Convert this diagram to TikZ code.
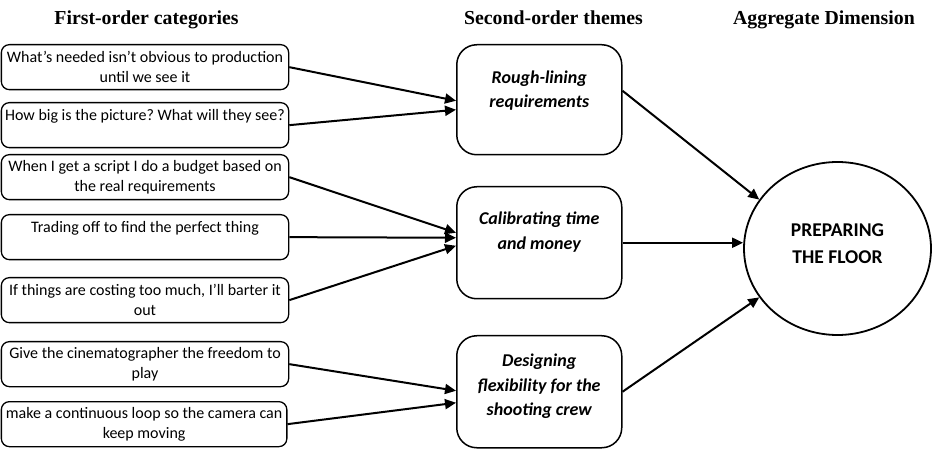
\documentclass[tikz,border=0pt]{standalone}
\usepackage{fontspec}
\setmainfont{Liberation Serif}
\newfontfamily\boxfont{Carlito}
\frenchspacing
\usetikzlibrary{arrows.meta,shapes.geometric}
\begin{document}
\begin{tikzpicture}[x=1pt,y=-1pt,
  heading/.style={font=\fontsize{19.8}{22}\selectfont\bfseries, anchor=base},
  quote/.style={draw, line width=1.3pt, rounded corners=8pt, minimum width=287.3pt,
    minimum height=45pt, inner sep=0pt, text width=287pt, align=flush center,
    font=\boxfont\fontsize{16}{20}\selectfont, anchor=north west},
  theme/.style={draw, line width=1.5pt, rounded corners=20pt, minimum width=165pt,
    inner sep=0pt, anchor=north west},
  themetext/.style={font=\boxfont\bfseries\itshape\fontsize{18}{24.5}\selectfont, align=center},
  dim/.style={draw, ellipse, line width=1.8pt, minimum width=187pt, minimum height=173pt,
    inner sep=0pt},
  dimtext/.style={font=\boxfont\bfseries\fontsize{19.5}{27}\selectfont, align=center},
  link/.style={line width=2pt, -{Triangle[length=11pt,width=10pt]}}
]
\useasboundingbox (0,0) rectangle (932,454);

% column headings
\node[heading] (h1) at (146.5,25) {First-order categories};
\node[heading] (h2) at (553.5,25) {Second-order themes};
\node[heading] (h3) at (824,25) {Aggregate Dimension};

% first-order categories
\node[quote] (b1) at (0.7,44)  {What’s needed isn’t obvious to production\\until we see it};
\node[quote] (b2) at (0.7,102) {How big is the picture? What will they see?\\~};
\node[quote] (b3) at (0.7,154) {When I get a script I do a budget based on\\the real requirements};
\node[quote] (b4) at (0.7,214) {Trading off to find the perfect thing\\~};
\node[quote] (b5) at (0.7,277) {If things are costing too much, I’ll barter it\\out};
\node[quote] (b6) at (0.7,341) {Give the cinematographer the freedom to\\play};
\node[quote, minimum width=285.5pt, text width=285pt] (b7) at (0.7,401) {make a continuous loop so the camera can\\keep moving};

% second-order themes
\node[theme, minimum height=110pt,
  label={[themetext, yshift=9pt]center:{Rough-lining\\requirements}}] (m1) at (456,44) {};
\node[theme, minimum height=112pt,
  label={[themetext, yshift=10.5pt]center:{Calibrating time\\and money}}] (m2) at (456,186) {};
\node[theme, minimum height=112pt,
  label={[themetext, yshift=5.5pt]center:{Designing\\flexibility for the\\shooting crew}}] (m3) at (456,335) {};

% aggregate dimension
\node[dim, label={[dimtext, yshift=5pt]center:{PREPARING\\THE FLOOR}}] (c) at (837.5,248.5) {};

% categories to themes
\draw[link] (b1.east) -- ([yshift=-1pt]m1.west);
\draw[link] (b2.east) -- ([yshift=-10pt]m1.west);
\draw[link] (b3.east) -- ([yshift=10pt]m2.west);
\draw[link] (b4.east) -- ([yshift=5pt]m2.west);
\draw[link] (b5.east) -- ([yshift=-3pt]m2.west);
\draw[link] (b6.east) -- ([yshift=1pt]m3.west);
\draw[link] (b7.east) -- ([yshift=-11pt]m3.west);

% themes to dimension
\draw[link] ([yshift=9pt]m1.east) -- (c.148);
\draw[link] (m2.east) -- (m2.east -| c.west);
\draw[link] (m3.east) -- (c.212);
\end{tikzpicture}
\end{document}
